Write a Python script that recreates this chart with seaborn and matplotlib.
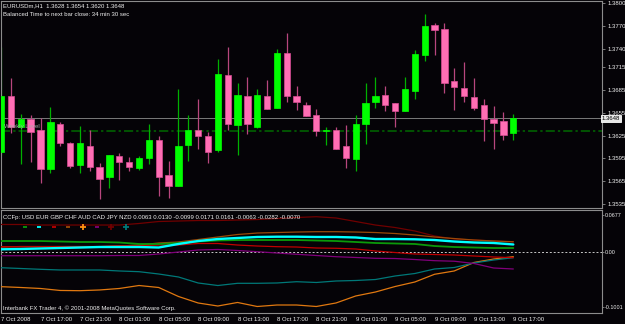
import numpy as np
import pandas as pd
import matplotlib
matplotlib.use("Agg")
import matplotlib.pyplot as plt
import seaborn as sns

# ---------------- data ----------------
opens = [1.3603, 1.3677, 1.3636, 1.3647, 1.3632, 1.3581, 1.3641, 1.3615, 1.3587, 1.3612,
         1.3584, 1.3570, 1.3598, 1.3590, 1.3583, 1.3596, 1.3620, 1.3573, 1.3559, 1.3613,
         1.3633, 1.3625, 1.3606, 1.3705, 1.3639, 1.3677, 1.3636, 1.3678, 1.3661, 1.3734,
         1.3677, 1.3665, 1.3652, 1.3631, 1.3632, 1.3611, 1.3594, 1.3640, 1.3669, 1.3679,
         1.3668, 1.3658, 1.3684, 1.3731, 1.3771, 1.3766, 1.3697, 1.3688, 1.3676, 1.3665,
         1.3647, 1.3644, 1.3628]
highs = [1.3742, 1.3701, 1.3654, 1.3652, 1.3648, 1.3663, 1.3643, 1.3617, 1.3638, 1.3632,
         1.3589, 1.3600, 1.3602, 1.3597, 1.3598, 1.3641, 1.3624, 1.3592, 1.3687, 1.3652,
         1.3673, 1.3630, 1.3726, 1.3742, 1.3694, 1.3702, 1.3686, 1.3698, 1.3739, 1.3760,
         1.3690, 1.3669, 1.3660, 1.3636, 1.3636, 1.3639, 1.3652, 1.3694, 1.3702, 1.3691,
         1.3668, 1.3703, 1.3738, 1.3786, 1.3774, 1.3774, 1.3714, 1.3722, 1.3701, 1.3674,
         1.3664, 1.3656, 1.3654]
lows = [1.3600, 1.3629, 1.3588, 1.3591, 1.3563, 1.3576, 1.3611, 1.3583, 1.3576, 1.3578,
        1.3541, 1.3556, 1.3567, 1.3578, 1.3580, 1.3588, 1.3546, 1.3543, 1.3559, 1.3592,
        1.3607, 1.3589, 1.3603, 1.3632, 1.3600, 1.3627, 1.3635, 1.3660, 1.3661, 1.3670,
        1.3659, 1.3651, 1.3625, 1.3613, 1.3607, 1.3582, 1.3579, 1.3614, 1.3661, 1.3657,
        1.3637, 1.3657, 1.3673, 1.3724, 1.3731, 1.3681, 1.3659, 1.3669, 1.3659, 1.3618,
        1.3607, 1.3619, 1.3620]
closes = [1.3677, 1.3636, 1.3647, 1.3630, 1.3581, 1.3643, 1.3615, 1.3585, 1.3615, 1.3584,
          1.3568, 1.3599, 1.3591, 1.3584, 1.3596, 1.3619, 1.3571, 1.3559, 1.3612, 1.3633,
          1.3625, 1.3604, 1.3706, 1.3640, 1.3679, 1.3640, 1.3679, 1.3660, 1.3734, 1.3677,
          1.3670, 1.3651, 1.3631, 1.3633, 1.3608, 1.3595, 1.3640, 1.3668, 1.3678, 1.3666,
          1.3657, 1.3686, 1.3733, 1.3770, 1.3765, 1.3695, 1.3689, 1.3677, 1.3662, 1.3647,
          1.3642, 1.3626, 1.3648]

time_labels = ["7 Oct 2008", "7 Oct 17:00", "7 Oct 21:00", "8 Oct 01:00", "8 Oct 05:00",
               "8 Oct 09:00", "8 Oct 13:00", "8 Oct 17:00", "8 Oct 21:00", "9 Oct 01:00",
               "9 Oct 05:00", "9 Oct 09:00", "9 Oct 13:00", "9 Oct 17:00"]
price_ticks = [1.3800, 1.3770, 1.3740, 1.3715, 1.3685, 1.3655, 1.3625, 1.3595, 1.3565, 1.3535]
bid_price = 1.3648
level_price = 1.3631
level_name = "Weekly Level"

currencies = ["USD", "EUR", "GBP", "CHF", "AUD", "CAD", "JPY", "NZD"]
ccf_values = [0.0063, 0.0130, -0.0099, 0.0171, 0.0161, -0.0063, -0.0282, -0.0070]
ccf_ticks = [0.0677, 0.0, -0.1001]
ccf_tick_labels = ["0.0677", "0.00", "-0.1001"]

ccf_bar = list(range(0, 53, 2))
usd = [0.0205, 0.0205, 0.0205, 0.0196, 0.0187, 0.0187, 0.0178, 0.0151, 0.0151, 0.0169,
       0.0196, 0.0214, 0.0223, 0.0223, 0.0223, 0.0223, 0.0214, 0.0205, 0.0187, 0.0169,
       0.0160, 0.0151, 0.0114, 0.0096, 0.0087, 0.0078, 0.0078]
eur = [0.0054, 0.0060, 0.0069, 0.0078, 0.0087, 0.0096, 0.0096, 0.0096, 0.0087, 0.0151,
       0.0205, 0.0241, 0.0260, 0.0278, 0.0283, 0.0283, 0.0278, 0.0278, 0.0269, 0.0241,
       0.0241, 0.0236, 0.0223, 0.0196, 0.0178, 0.0169, 0.0142]
gbp = [0.0102, 0.0102, 0.0102, 0.0102, 0.0102, 0.0102, 0.0120, 0.0120, 0.0132, 0.0132,
       0.0160, 0.0160, 0.0132, 0.0114, 0.0102, 0.0096, 0.0078, 0.0073, 0.0060, 0.0024,
       -0.0004, -0.0031, -0.0040, -0.0049, -0.0067, -0.0085, -0.0098]
chf = [0.0096, 0.0105, 0.0105, 0.0105, 0.0105, 0.0105, 0.0114, 0.0132, 0.0169, 0.0187,
       0.0232, 0.0278, 0.0323, 0.0350, 0.0359, 0.0368, 0.0374, 0.0374, 0.0368, 0.0359,
       0.0341, 0.0314, 0.0278, 0.0250, 0.0223, 0.0205, 0.0192]
aud = [-0.0624, -0.0639, -0.0657, -0.0693, -0.0697, -0.0684, -0.0657, -0.0603, -0.0639, -0.0802,
       -0.0920, -0.0975, -0.0911, -0.0984, -0.0957, -0.0957, -0.0984, -0.0920, -0.0793, -0.0721,
       -0.0621, -0.0539, -0.0399, -0.0339, -0.0185, -0.0122, -0.0080]
cad = [-0.0062, -0.0062, -0.0062, -0.0062, -0.0062, -0.0062, -0.0058, -0.0058, -0.0031, 0.0005,
       0.0042, 0.0051, 0.0033, 0.0011, -0.0013, -0.0036, -0.0058, -0.0080, -0.0094, -0.0109,
       -0.0113, -0.0131, -0.0152, -0.0162, -0.0203, -0.0285, -0.0303]
jpy = [0.0505, 0.0505, 0.0495, 0.0495, 0.0495, 0.0495, 0.0495, 0.0523, 0.0559, 0.0568,
       0.0577, 0.0577, 0.0586, 0.0595, 0.0613, 0.0632, 0.0646, 0.0623, 0.0559, 0.0495,
       0.0450, 0.0387, 0.0296, 0.0241, 0.0223, 0.0205, 0.0187]
nzd = [-0.0280, -0.0294, -0.0309, -0.0321, -0.0321, -0.0321, -0.0339, -0.0352, -0.0394, -0.0448,
       -0.0557, -0.0603, -0.0563, -0.0563, -0.0557, -0.0534, -0.0548, -0.0521, -0.0512, -0.0494,
       -0.0430, -0.0385, -0.0303, -0.0276, -0.0194, -0.0140, -0.0098]

# ---------------- style ----------------
W, H = 625, 324
sns.set_theme(style="dark", rc={"axes.facecolor": "#050307", "figure.facecolor": "#050307"})
plt.rcParams["font.family"] = ["Liberation Sans", "DejaVu Sans"]

col_bull = "#00ff00"
col_bull_wick = "#00b000"
col_bear = "#ff6eb4"
col_bear_edge = "#d84c94"
col_bear_wick = "#b8467e"
grid_col = "#8c8c8c"
txt_col = "#f0f0f0"
fs = 4.3

palette = {"USD": "#0a9a0a", "EUR": "#00ffff", "GBP": "#c00000", "CHF": "#9a4a08",
           "AUD": "#e07810", "CAD": "#80007a", "JPY": "#700000", "NZD": "#007878"}
marker_kind = {"USD": "_", "EUR": "_", "GBP": "_", "CHF": "_",
               "AUD": "+", "CAD": "_", "JPY": "+", "NZD": "+"}
line_w = {"USD": 1.3, "EUR": 1.7, "GBP": 0.9, "CHF": 0.9,
          "AUD": 0.9, "CAD": 0.9, "JPY": 0.9, "NZD": 0.9}
series = {"USD": usd, "EUR": eur, "GBP": gbp, "CHF": chf,
          "AUD": aud, "CAD": cad, "JPY": jpy, "NZD": nzd}

fig = plt.figure(figsize=(W / 100, H / 100), dpi=100)
fig.patch.set_facecolor("#050307")

def px_axes(x0, y0, x1, y1):
    return [x0 / W, (H - y1) / H, (x1 - x0) / W, (y1 - y0) / H]

ax1 = fig.add_axes(px_axes(1, 1, 602, 208))
ax2 = fig.add_axes(px_axes(1, 210, 602, 312.5))

n = len(opens)
bars = np.arange(n)
xlim = (-0.01, 61.0)

# ---------------- candles ----------------
for i in range(n):
    o, h, l, c = opens[i], highs[i], lows[i], closes[i]
    bull = c >= o
    ax1.vlines(bars[i], l, h, color=col_bull_wick if bull else col_bear_wick, lw=0.9, zorder=2)
lo_b = [min(o, c) for o, c in zip(opens, closes)]
hgt = [max(abs(c - o), 0.00012) for o, c in zip(opens, closes)]
cols = [col_bull if c >= o else col_bear for o, c in zip(opens, closes)]
edges = [col_bull if c >= o else col_bear_edge for o, c in zip(opens, closes)]
ax1.bar(bars, hgt, bottom=lo_b, width=0.64, color=cols, edgecolor=edges, lw=0.5, zorder=3)

ax1.axhline(bid_price, color="#7a7a7a", lw=0.7, zorder=1)
ax1.axhline(level_price, color="#006a00", lw=1.1, ls=(0, (6, 2, 1.5, 2)), zorder=1)
ax1.text(0.3, level_price + 0.0003, level_name, color="#a8a8a8", fontsize=fs, va="bottom", ha="left",
         zorder=4)

ax1.set_xlim(*xlim)
ax1.set_ylim(1.352973, 1.380264)
ax1.yaxis.tick_right()
ax1.set_yticks(price_ticks)
ax1.set_yticklabels([f"{p:.4f}" for p in price_ticks])
ax1.set_xticks([])
ax1.tick_params(axis="y", direction="out", length=2.5, width=0.6, color=grid_col,
                labelsize=fs, labelcolor=txt_col, pad=1.2)
ax1.text(1.0, bid_price, f"{bid_price:.4f}", transform=ax1.get_yaxis_transform(),
         fontsize=fs, color="black", va="center", ha="left",
         bbox=dict(boxstyle="square,pad=0.15", fc="#e8e8e8", ec="white", lw=0.6), zorder=6,
         clip_on=False)
ax1.grid(False)

# ---------------- CCFp lines (seaborn) ----------------
ax2.axhline(0, color="#c8c8c8", lw=0.7, ls=(0, (2, 2)), zorder=1)
draw_order = ["JPY", "CHF", "AUD", "NZD", "CAD", "GBP", "USD", "EUR"]
for cur in draw_order:
    df = pd.DataFrame({"bar": ccf_bar, "value": series[cur]})
    sns.lineplot(data=df, x="bar", y="value", ax=ax2, color=palette[cur],
                 lw=line_w[cur], legend=False, zorder=3)

ax2.set_xlim(*xlim)
ax2.set_ylim(-0.1093, 0.0768)
ax2.set_xlabel("")
ax2.set_ylabel("")
ax2.yaxis.tick_right()
ax2.set_yticks(ccf_ticks)
ax2.set_yticklabels(ccf_tick_labels)
ax2.set_xticks(np.arange(0, n, 4))
ax2.set_xticklabels(time_labels)
plt.setp(ax2.get_xticklabels(), ha="left")
ax2.tick_params(axis="y", direction="out", length=1.5, width=0.6, color=grid_col,
                labelsize=3.9, labelcolor=txt_col, pad=0.6)
ax2.tick_params(axis="x", direction="out", length=2.5, width=0.6, color=grid_col,
                labelsize=fs, labelcolor=txt_col, pad=0.5)
ax2.grid(False)

# legend markers row
for k, cur in enumerate(currencies):
    xp = (25 + 14.4 * k - 1) / 601
    big = marker_kind[cur] == "+"
    ax2.plot([xp], [0.83], marker=marker_kind[cur], color=palette[cur] if cur != "AUD" else "#ff9010",
             ms=3.8 if big else 2.4, mew=1.3, transform=ax2.transAxes, clip_on=False, zorder=5)

for ax in (ax1, ax2):
    ax.set_facecolor("#050307")
    for sp in ax.spines.values():
        sp.set_color(grid_col)
        sp.set_linewidth(0.8)
        sp.set_visible(True)

# ---------------- texts ----------------
def ftext(x, y, s, **kw):
    fig.text(x / W, 1 - y / H, s, fontsize=fs, color=txt_col, va="center", ha="left", **kw)

ftext(3, 6, "EURUSDm,H1  1.3628 1.3654 1.3620 1.3648")
ftext(3, 14, "Balanced Time to next bar close: 34 min 30 sec")
ftext(3, 217, "CCFp: " + " ".join(currencies) + " " + " ".join(f"{v:.4f}" for v in ccf_values))
ftext(3, 308, "Interbank FX Trader 4, \u00a9 2001-2008 MetaQuotes Software Corp.")

fig.savefig("out.png", dpi=100, facecolor=fig.get_facecolor())
